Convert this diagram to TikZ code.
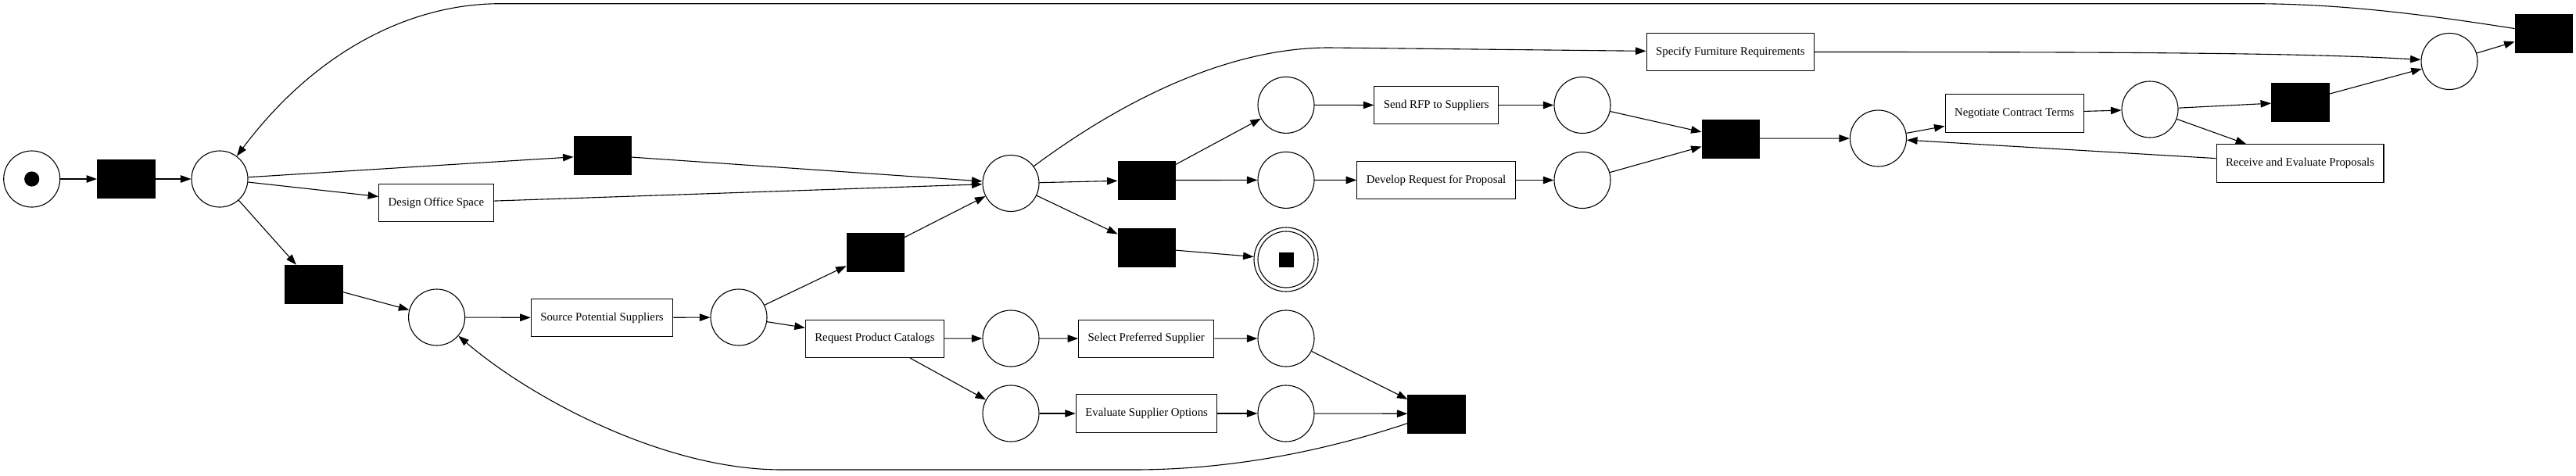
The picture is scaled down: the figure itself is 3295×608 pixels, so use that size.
\documentclass[tikz,border=0pt]{standalone}
\usepackage{fontspec}
\setmainfont{Liberation Serif}
\usetikzlibrary{arrows.meta}
\begin{document}
\begin{tikzpicture}[x=1pt,y=-1pt,
  every node/.style={font=\fontsize{14.84}{17}\selectfont},
  place/.style={circle,draw,line width=1.1pt,minimum size=72pt,inner sep=0pt},
  trans/.style={rectangle,fill=black,draw=black,minimum width=73.5pt,minimum height=49pt,inner sep=0pt},
  task/.style={rectangle,draw,line width=1.1pt,minimum height=48.4pt,inner xsep=12pt,inner ysep=0pt},
  tok/.style={fill=black,inner sep=0pt},
  arc/.style={line width=1.1pt,-{Triangle[length=13.5pt,width=9.5pt]}},
]
\useasboundingbox (0,0) rectangle (3295,608);
% places
\node[place] (p0) at (40.7,229) {};
\node[tok,circle,minimum size=19.2pt] (tok0) at (p0) {};
\node[place] (p1) at (281,229) {};
\node[place] (p2) at (558.6,406) {};
\node[place] (p3) at (945,406) {};
\node[place] (p4) at (1293,234.5) {};
\node[place] (p7) at (1293,433) {};
\node[place] (p8) at (1293,529) {};
\node[place] (p5) at (1645,134.4) {};
\node[place] (p6) at (1645,230.4) {};
\node[place,minimum size=82pt] (final) at (1645,332) {};
\node[place] (finalin) at (final) {};
\node[tok,rectangle,minimum size=19pt] (tokf) at (final) {};
\node[place] (p9) at (1645,433) {};
\node[place] (p10) at (1645,529) {};
\node[place] (p11) at (2024,134.5) {};
\node[place] (p12) at (2024,230.5) {};
\node[place] (p13) at (2402.5,177) {};
\node[place] (p14) at (2750,140) {};
\node[place] (p15) at (3133,78.5) {};
% silent transitions
\node[trans] (t1) at (161,229) {};
\node[trans] (t2) at (401,363.5) {};
\node[trans] (t3) at (770.5,198.5) {};
\node[trans] (t4) at (1119.5,322.6) {};
\node[trans] (t5) at (1466.5,230.5) {};
\node[trans] (t6) at (1466.5,317) {};
\node[trans] (t7) at (2213.5,177.2) {};
\node[trans] (t8) at (1837.4,529.3) {};
\node[trans] (t9) at (2942,130.3) {};
\node[trans] (t10) at (3253.5,42.3) {};
% tasks
\node[task] (dos) at (558,259.6) {Design Office Space};
\node[task] (sps) at (770,406.5) {Source Potential Suppliers};
\node[task] (rpc) at (1119,433.3) {Request Product Catalogs};
\node[task] (sel) at (1466.3,433.3) {Select Preferred Supplier};
\node[task] (eso) at (1466.6,529) {Evaluate Supplier Options};
\node[task] (rfp) at (1837.2,134.5) {Send RFP to Suppliers};
\node[task] (dev) at (1837,230.5) {Develop Request for Proposal};
\node[task] (spec) at (2213.3,66.5) {Specify Furniture Requirements};
\node[task] (nct) at (2576.6,145) {Negotiate Contract Terms};
\node[task] (rae) at (2942,209) {Receive and Evaluate Proposals};
% arcs
\draw[arc] (p0) -- (t1);
\draw[arc] (t1) -- (p1);
\draw[arc] (p1) -- (t3);
\draw[arc] (p1) -- (dos);
\draw[arc] (p1) -- (t2);
\draw[arc] (t2) -- (p2);
\draw[arc] (t3) -- (p4);
\draw[arc] (dos) -- (p4);
\draw[arc] (t4) -- (p4);
\draw[arc] (p2) -- (sps);
\draw[arc] (sps) -- (p3);
\draw[arc] (p3) -- (t4);
\draw[arc] (p3) -- (rpc);
\draw[arc] (rpc) -- (p7);
\draw[arc] (rpc) -- (p8);
\draw[arc] (p7) -- (sel);
\draw[arc] (p8) -- (eso);
\draw[arc] (sel) -- (p9);
\draw[arc] (eso) -- (p10);
\draw[arc] (p9) -- (t8);
\draw[arc] (p10) -- (t8);
\draw[arc] (t8) .. controls (1700,575) and (1580,601) .. (1450,601) -- (1000,601) .. controls (850,601) and (680,510) .. (p2);
\draw[arc] (p4) -- (t5);
\draw[arc] (p4) -- (t6);
\draw[arc] (p4) .. controls (1420,140) and (1560,61) .. (1700,61) -- (spec);
\draw[arc] (t5) -- (p5);
\draw[arc] (t5) -- (p6);
\draw[arc] (t6) -- (final);
\draw[arc] (p5) -- (rfp);
\draw[arc] (rfp) -- (p11);
\draw[arc] (p6) -- (dev);
\draw[arc] (dev) -- (p12);
\draw[arc] (p11) -- (t7);
\draw[arc] (p12) -- (t7);
\draw[arc] (t7) -- (p13);
\draw[arc] (p13) -- (nct);
\draw[arc] (nct) -- (p14);
\draw[arc] (p14) -- (t9);
\draw[arc] (p14) -- (rae);
\draw[arc] (rae) -- (p13);
\draw[arc] (spec) .. controls (2750,66.5) and (2950,68) .. (p15);
\draw[arc] (t9) -- (p15);
\draw[arc] (p15) -- (t10);
\draw[arc] (t10) .. controls (3110,20) and (3000,4.7) .. (2880,4.7) -- (640,4.7) .. controls (520,4.7) and (400,70) .. (p1);
\end{tikzpicture}
\end{document}
